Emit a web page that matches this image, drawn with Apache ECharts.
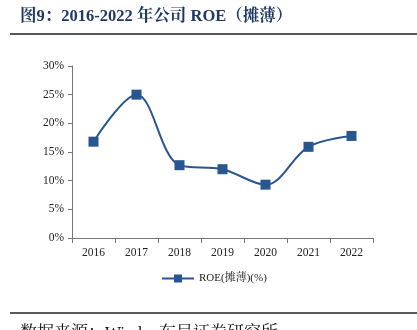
<!DOCTYPE html>
<html><head><meta charset="utf-8">
<script src="https://cdn.jsdelivr.net/npm/echarts@6/dist/echarts.min.js"></script>
<style>html,body{margin:0;padding:0;background:#fff}#c{width:417px;height:330px}</style>
</head><body><div id="c"></div>
<script>
const categories = ['2016','2017','2018','2019','2020','2021','2022'];
const roeValues = [16.8, 25.0, 12.7, 12.0, 9.3, 15.9, 17.8];
const seriesName = 'ROE(摊薄)(%)';
const titleText = '图9：2016-2022 年公司 ROE（摊薄）';
const sourceText = '数据来源：Wind，东吴证券研究所';

const chart = echarts.init(document.getElementById('c'), null, {renderer:'canvas'});
const serif = '"Liberation Serif","Times New Roman","Noto Serif CJK SC","Noto Sans CJK SC",serif';
chart.setOption({
  animation:false,
  backgroundColor:'#fff',
  graphic:[
    {type:'text', left:20, top:8, style:{text:titleText, font:'bold 16.5px '+serif, fill:'#1f3864'}},
    {type:'line', shape:{x1:10,y1:34,x2:417,y2:34}, style:{stroke:'#222',lineWidth:1.5}},
    {type:'line', shape:{x1:10,y1:313,x2:417,y2:313}, style:{stroke:'#222',lineWidth:1.5}},
    {type:'text', left:20, top:325, style:{text:sourceText, font:'17px '+serif, fill:'#111'}}
  ],
  grid:{left:72, right:44, top:66, bottom:92, containLabel:false},
  legend:{
    data:[seriesName], bottom:41, left:156,
    itemWidth:32, itemHeight:10, itemGap:4,
    textStyle:{fontFamily:serif, fontSize:11, color:'#222'}
  },
  xAxis:{
    type:'category', data:categories, boundaryGap:true,
    axisLine:{lineStyle:{color:'#777'}},
    axisTick:{show:true, inside:false, length:5, lineStyle:{color:'#777'}},
    axisLabel:{fontFamily:serif, fontSize:11.5, color:'#222', margin:9}
  },
  yAxis:{
    type:'value', min:0, max:30, interval:5,
    axisLine:{show:true, lineStyle:{color:'#777'}},
    axisTick:{show:true, length:4, lineStyle:{color:'#777'}},
    splitLine:{show:false},
    axisLabel:{fontFamily:serif, fontSize:11.5, color:'#222', formatter:'{value}%', margin:8}
  },
  series:[{
    name:seriesName, type:'line', data:roeValues, smooth:0.35,
    symbol:'rect', symbolSize:10,
    lineStyle:{color:'#285790', width:2},
    itemStyle:{color:'#285790'}
  }]
});
</script></body></html>
